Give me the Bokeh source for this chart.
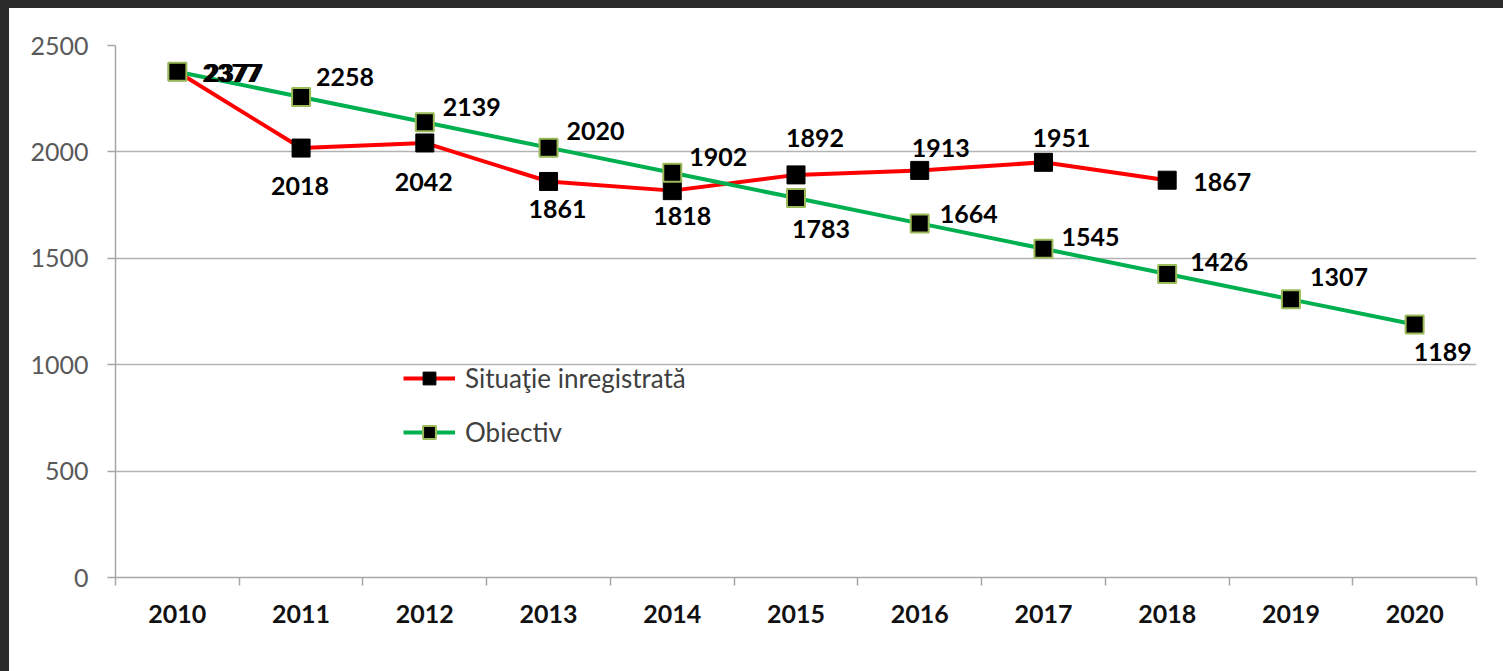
from bokeh.plotting import figure
from bokeh.models import Range1d, FixedTicker, ColumnDataSource
from bokeh.core.properties import value
from bokeh.embed import file_html
from bokeh.resources import INLINE

# ---- data ----
years = [2010, 2011, 2012, 2013, 2014, 2015, 2016, 2017, 2018, 2019, 2020]
year_labels = ["2010", "2011", "2012", "2013", "2014", "2015", "2016", "2017", "2018", "2019", "2020"]
recorded_years = [2010, 2011, 2012, 2013, 2014, 2015, 2016, 2017, 2018]
recorded = [2377, 2018, 2042, 1861, 1818, 1892, 1913, 1951, 1867]
target = [2377, 2258, 2139, 2020, 1902, 1783, 1664, 1545, 1426, 1307, 1189]
y_ticks = [0, 500, 1000, 1500, 2000, 2500]
series_names = ["Situaţie inregistrată", "Obiectiv"]

# ---- label placement (screen px) ----
rec_dx = [57, -1, -1, 9, 10, 19, 21, 18, 55]
rec_dy = [1, 38, 39, 28, 25, -37, -22, -24, 2]
tgt_dx = [54, 44, 47, 47, 46, 25, 49, 47, 52, 48, 28]
tgt_dy = [1, -20, -15, -17, -16, 31, -9, -12, -12, -22, 28]

FONT = "Lato"
RED = "#ff0000"
GREEN = "#00b050"

p = figure(width=1488, height=655,
           x_range=Range1d(2009.5, 2020.5), y_range=Range1d(0, 2500),
           output_backend="svg", toolbar_location=None,
           min_border_left=106, min_border_right=21,
           min_border_top=37, min_border_bottom=86,
           background_fill_color="white", border_fill_color="white",
           outline_line_color=None)

# axes
p.xaxis.ticker = FixedTicker(ticks=years,
                             minor_ticks=[y - 0.5 for y in years] + [years[-1] + 0.5])
p.xaxis.major_label_overrides = {y: lab for y, lab in zip(years, year_labels)}
p.xaxis.major_tick_out = 0
p.xaxis.major_tick_in = 0
p.xaxis.minor_tick_out = 8
p.xaxis.minor_tick_in = 0
p.xaxis.minor_tick_line_color = "#a6a6a6"
p.xaxis.minor_tick_line_width = 1.5
p.xaxis.axis_line_color = "#a6a6a6"
p.xaxis.axis_line_width = 1.5
p.xaxis.major_label_text_font = FONT
p.xaxis.major_label_text_font_style = "bold"
p.xaxis.major_label_text_font_size = "25px"
p.xaxis.major_label_text_color = "#111111"
p.xaxis.major_label_standoff = 19

p.yaxis.ticker = FixedTicker(ticks=y_ticks, minor_ticks=[])
p.yaxis.major_tick_out = 8
p.yaxis.major_tick_in = 0
p.yaxis.major_tick_line_color = "#a6a6a6"
p.yaxis.major_tick_line_width = 1.5
p.yaxis.minor_tick_out = 0
p.yaxis.minor_tick_in = 0
p.yaxis.axis_line_color = "#a6a6a6"
p.yaxis.axis_line_width = 1.5
p.yaxis.major_label_text_font = FONT
p.yaxis.major_label_text_font_size = "25px"
p.yaxis.major_label_text_color = "#595959"
p.yaxis.major_label_standoff = 19

p.xgrid.visible = False
p.ygrid.grid_line_color = "#b3b3b3"
p.ygrid.grid_line_width = 1.5

# series
p.line(recorded_years, recorded, line_color=RED, line_width=4,
       legend_label=series_names[0])
p.scatter(recorded_years, recorded, marker="square", size=18,
          fill_color="black", line_color="black", line_width=1,
          legend_label=series_names[0])
p.line(years, target, line_color=GREEN, line_width=4,
       legend_label=series_names[1])
p.scatter(years, target, marker="square", size=18,
          fill_color="black", line_color="#9bbb59", line_width=2,
          legend_label=series_names[1])

# data labels
rec_src = ColumnDataSource(dict(x=recorded_years, y=recorded,
                                t=[str(v) for v in recorded],
                                dx=rec_dx, dy=rec_dy))
tgt_src = ColumnDataSource(dict(x=years, y=target,
                                t=[str(v) for v in target],
                                dx=tgt_dx, dy=tgt_dy))
for src in (rec_src, tgt_src):
    p.text(x="x", y="y", text="t", x_offset="dx", y_offset="dy", source=src,
           text_font=value(FONT), text_font_style="bold",
           text_font_size="25px", text_color="black",
           text_align="center", text_baseline="middle")

# legend
lg = p.legend[0]
lg.location = (288, 129)
lg.padding = 0
lg.margin = 0
lg.spacing = 22
lg.glyph_width = 52
lg.glyph_height = 32
lg.label_height = 30
lg.label_standoff = 10
lg.border_line_color = None
lg.background_fill_alpha = 0
lg.label_text_font = FONT
lg.label_text_font_size = "26px"
lg.label_text_color = "#404040"

html = file_html(p, INLINE)
style = ("<style>html{background:#ffffff !important;overflow:hidden !important;}"
         "body{border-top:8px solid #2b2b2b !important;"
         "border-left:9px solid #2b2b2b !important;"
         "padding:0 !important;margin:0 !important;overflow:hidden !important;"
         "box-sizing:border-box !important;background:#ffffff !important;}</style>")
html = html.replace("</head>", style + "</head>", 1)
open("out.html", "w").write(html)
